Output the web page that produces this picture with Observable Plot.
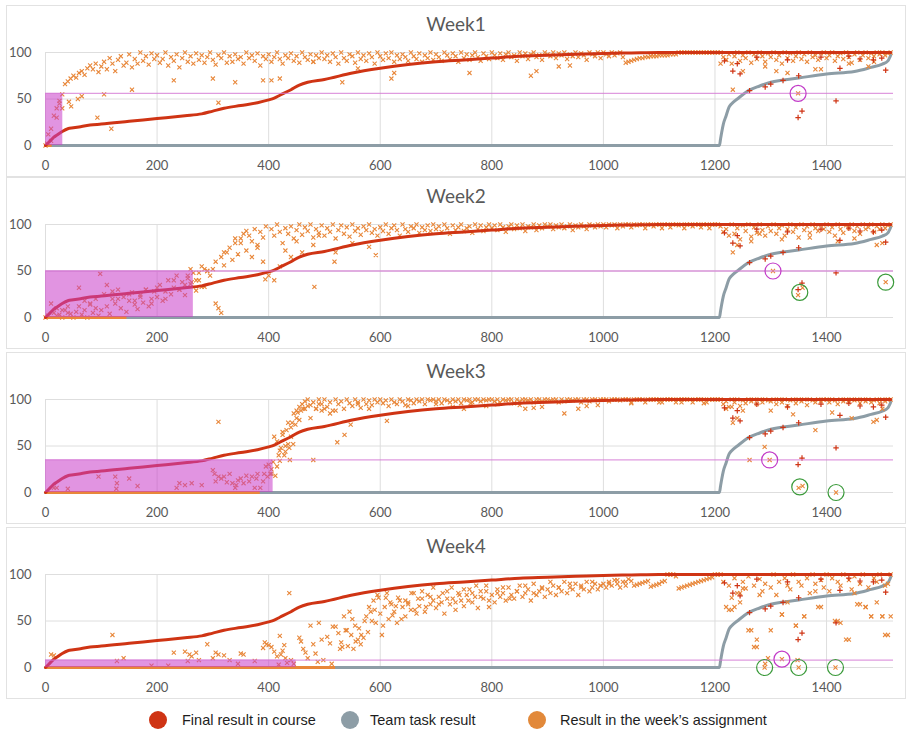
<!DOCTYPE html>
<html><head><meta charset="utf-8">
<script src="https://cdn.jsdelivr.net/npm/d3@7"></script>
<script src="https://cdn.jsdelivr.net/npm/@observablehq/plot@0.6"></script>
<style>
body{margin:0;background:#fff;width:909px;height:739px;position:relative;overflow:hidden;font-family:Lato,sans-serif}
.panel{position:absolute;left:6px;width:898px;height:170px;border:1px solid #e2e2e2;background:#fff}
.title{position:absolute;top:7px;left:0;width:100%;text-align:center;font-size:19px;color:#595959;line-height:22px;z-index:2}
.panel svg{position:absolute;left:0;top:0}
.lg-dot{position:absolute;width:18px;height:18px;border-radius:50%}
.lg-txt{position:absolute;font-family:"Liberation Sans",Arial,sans-serif;font-size:14.5px;color:#1e1e1e;line-height:18px}
</style></head>
<body>
<div id="root"></div>
<script>
const weeks = ["Week1","Week2","Week3","Week4"];
const xTicks = [0,200,400,600,800,1000,1200,1400];
const yTicks = [0,50,100];
const legendLabels = ["Final result in course","Team task result","Result in the week\u2019s assignment"];

// Final result in course (sorted curve), read at sample positions
const finalX = [0,5,10,15,20,30,40,50,60,80,100,150,200,250,280,300,320,350,380,400,410,420,440,455,470,500,550,600,650,700,750,800,850,900,950,1000,1050,1100,1515];
const finalY = [0,3,6,9,11,15,18,19,20,22,23,26,29,32,34,37,40,43,46,49,51,54,60,65,68,71,78,83,87,90,92,94,96,97,98,99,99.5,100,100];
// Final results below 100 among students with a team task
const finalOut = [[1217,91],[1232,80],[1245,77],[1262,59],[1290,63],[1300,66],[1322,70],[1350,75],[1356,37],[1349,30],[1417,48],[1424,83],[1506,81],[1499,94],[1484,92],[1240,88],[1275,95],[1330,92],[1390,95],[1440,96],[1460,93]];
// Team task result
const teamX = [0,1208,1210,1212,1215,1220,1225,1230,1240,1260,1280,1300,1350,1400,1450,1480,1500,1510,1515];
const teamY = [0,0,7,14,23,32,41,45,50,59,64,68,72.5,77,79.5,84,87.5,91,97];

const thresholds = [56,50,35,8];
const flaggedUpTo = [31,265,408,449];
const zeroRunEnd = [12,146,385,520];
const baseStart = [0,0,400,520];

// Week assignment results, one value every 5 students from baseStart
const base1 = [
0,12,18,32,40,48,55,66,69,72,75,73,78,80,76,83,86,82,88,79,
85,90,82,94,88,80,92,96,86,89,98,84,93,88,100,91,96,87,99,93,
97,89,93,100,86,95,91,98,84,94,100,90,96,88,99,92,97,89,95,100,
92,87,97,94,100,89,96,90,98,93,95,88,100,94,97,91,99,86,96,93,
98,90,95,100,93,88,97,94,99,91,96,89,100,95,92,98,90,97,94,100,
93,97,90,99,95,88,100,94,91,98,96,89,100,93,97,91,99,95,88,100,
96,92,99,94,100,90,97,93,98,95,91,100,96,93,99,90,97,94,100,92,
98,95,91,100,97,93,99,96,90,100,94,98,92,97,100,95,91,99,96,93,
100,97,94,99,92,98,100,95,97,91,100,96,99,93,98,100,95,97,92,100,
98,96,100,94,99,97,100,93,98,96,100,95,99,97,92,100,98,96,100,94,
100,98,96,100,97,99,100,95,89,90,91,92,93,94,94,95,95,96,96,96,
97,97,97,97,98,98,98,100,100,100,100,100,100,100,100,100,100,100,100,100,
100,100,100,95,92,98,88,96,100,91,97,94,100,89,98,93,100,96,90,99,
95,100,92,97,88,100,94,99,91,96,100,93,98,90,100,95,97,92,99,100,
94,97,100,91,96,99,93,100,95,89,98,100,92,97,100,94,99,96,100,98,
100,97,99,100];
const base2 = [
0,2,15,5,10,3,0,8,12,4,0,6,32,3,8,0,14,5,10,2,
8,25,12,4,20,15,30,10,22,6,18,27,14,9,24,16,30,12,20,28,
22,35,18,28,40,25,32,45,30,38,24,42,36,48,29,40,55,33,50,45,
52,60,10,65,56,70,75,62,85,68,80,90,72,88,82,95,78,92,86,98,
45,95,88,100,92,80,96,90,98,85,94,100,89,97,93,100,86,95,91,99,
88,96,92,100,85,94,99,90,97,87,100,93,96,89,98,94,100,91,95,88,
97,93,100,90,96,99,94,88,100,95,92,98,96,100,91,97,94,99,93,100,
95,98,92,100,96,90,99,94,97,100,93,96,98,91,100,95,99,93,97,100,
96,99,94,100,97,92,98,100,95,99,96,100,93,98,97,100,94,99,96,100,
98,100,95,99,97,100,96,98,100,94,99,97,100,98,95,100,99,97,100,98,
100,97,100,99,100,96,100,98,100,100,97,100,99,100,100,96,100,100,98,100,
100,96,100,100,97,100,100,99,100,96,100,100,98,100,100,97,100,100,96,100,
100,100,98,92,95,88,100,90,96,84,99,93,100,87,97,91,100,94,88,98,
93,100,90,96,99,88,95,100,92,97,86,100,94,98,91,100,96,93,99,95,
100,92,97,88,100,95,91,99,96,100,93,98,90,100,95,97,100,92,98,95,
100,96,99,100];
const base3 = [
30,20,60,55,45,65,50,75,70,85,88,92,95,90,100,94,97,90,100,95,
100,92,97,88,100,95,98,90,100,96,93,100,97,91,100,95,99,94,100,97,
100,96,99,93,100,97,95,100,98,94,100,99,96,100,98,100,95,100,99,100,
98,100,96,100,99,97,100,98,100,96,100,99,100,97,100,100,98,100,99,100,
100,98,100,97,100,99,100,100,96,100,98,100,100,99,100,97,100,100,98,100,
100,99,100,100,97,100,98,100,100,99,100,100,97,100,100,98,100,100,99,100,
100,100,98,100,100,100,99,100,100,100,97,100,100,100,100,97,100,100,100,100,
100,97,100,100,100,100,97,100,100,100,100,100,97,100,100,100,100,97,100,100,
100,100,100,95,98,92,100,97,100,93,99,96,100,98,100,95,100,97,100,99,
98,100,95,100,97,100,93,99,100,96,100,98,100,94,100,99,97,100,98,100,
100,97,100,99,95,100,98,100,97,100,99,100,96,100,98,100,97,99,100,96,
100,98,100,100];
const base4 = [
44,37,27,55,40,60,52,45,30,25,32,55,65,50,62,78,
58,45,75,52,68,60,48,72,65,55,70,62,80,58,66,74,60,78,68,72,
64,76,70,58,82,68,74,62,80,72,66,78,84,70,76,64,82,74,88,72,
78,70,84,76,80,72,86,78,74,82,88,76,80,84,72,90,78,82,86,76,
84,80,88,78,86,82,92,80,86,84,90,78,88,84,92,82,86,90,84,88,
90,86,92,88,94,90,86,92,88,95,93,88,89,90,91,92,93,87,88,89,
90,92,93,100,100,100,98,85,86,87,88,89,90,91,92,93,94,95,96,97,
100,100,100,92,65,88,75,96,80,70,92,85,98,40,88,22,95,82,90,10,
86,100,78,92,57,96,88,84,100,45,92,88,55,96,80,100,90,65,94,86,
100,82,96,50,92,88,100,30,94,84,98,68,90,100,65,86,55,96,92,100,
55,35,90,100];

// Additional scattered assignment results [student, score]
const extra1 = [[3,2],[10,5],[20,30],[25,45],[30,40],[42,47],[46,42],[58,50],[65,53],[93,30],[105,55],[118,18],[155,60],[230,70],[300,72],[310,46],[340,68],[390,70],[405,70],[420,72],[480,90],[532,68],[560,83],[620,72],[625,78],[760,78],[870,75],[880,80],[920,85],[940,86],[1210,88],[1220,92],[1232,60],[1250,80],[1290,85],[1310,80],[1330,78],[1349,56],[1380,82],[1390,82],[1440,88],[1475,85],[1485,90]];
const extra2 = [[20,2],[30,8],[40,5],[60,12],[70,18],[80,15],[90,20],[98,47],[110,35],[120,28],[130,20],[150,25],[160,18],[170,22],[180,30],[190,15],[200,32],[215,20],[230,40],[240,30],[250,35],[255,45],[260,52],[262,38],[270,40],[275,48],[280,33],[285,52],[290,50],[305,15],[315,5],[320,70],[340,80],[350,85],[360,93],[370,65],[380,75],[390,60],[394,41],[410,40],[420,55],[430,72],[440,65],[450,82],[460,70],[480,78],[482,33],[490,88],[518,60],[520,70],[550,80],[580,76],[592,67],[1232,70],[1240,78],[1265,82],[1280,90],[1304,50],[1349,24],[1357,32],[1506,38],[1420,82],[1450,85],[1490,78],[1500,80],[1320,84],[1370,86]];
const extra3 = [[15,5],[20,5],[40,4],[95,17],[125,17],[128,10],[127,4],[150,15],[165,7],[235,5],[240,10],[250,8],[262,10],[280,8],[300,24],[303,20],[305,12],[310,17],[310,76],[315,15],[320,17],[325,11],[330,20],[335,10],[340,5],[342,8],[345,13],[350,15],[355,10],[360,18],[365,12],[370,17],[375,5],[378,15],[380,20],[385,5],[390,12],[392,20],[395,28],[398,17],[403,20],[405,25],[408,33],[412,18],[415,28],[418,40],[420,34],[422,48],[425,62],[428,40],[430,44],[432,67],[435,52],[437,48],[438,35],[440,60],[442,75],[444,52],[448,73],[450,80],[452,86],[455,78],[458,88],[462,90],[465,98],[470,93],[475,80],[480,35],[485,90],[490,95],[495,88],[500,90],[510,85],[520,88],[523,54],[536,62],[547,73],[560,95],[580,90],[612,77],[650,93],[700,95],[730,92],[750,90],[762,96],[790,93],[810,95],[850,94],[860,90],[875,91],[890,92],[930,85],[955,90],[970,93],[990,94],[1050,96],[1100,97],[1140,97],[1180,96],[1220,90],[1230,92],[1232,75],[1240,80],[1250,88],[1262,35],[1289,49],[1298,35],[1300,88],[1340,84],[1350,5],[1357,7],[1380,67],[1410,86],[1417,0],[1445,80],[1484,76],[1490,78],[1500,90]];
const extra4 = [[10,14],[15,13],[120,35],[128,7],[140,10],[190,2],[220,2],[230,16],[250,17],[255,7],[258,14],[262,12],[270,16],[275,8],[290,25],[300,10],[305,16],[310,14],[320,13],[330,8],[345,4],[350,15],[355,14],[375,7],[390,21],[393,27],[396,25],[400,24],[405,22],[410,17],[415,12],[418,3],[420,34],[422,14],[425,18],[428,24],[430,10],[433,5],[437,80],[440,8],[445,4],[455,32],[458,28],[462,20],[466,16],[470,10],[475,45],[480,25],[484,15],[488,6],[490,48],[495,30],[498,8],[505,33],[510,26],[513,4],[515,44],[528,20],[532,22],[538,40],[542,23],[548,35],[552,20],[556,28],[562,42],[566,35],[572,50],[578,38],[583,60],[588,72],[592,48],[597,75],[603,35],[608,65],[612,80],[618,70],[622,56],[628,66],[632,75],[638,52],[645,72],[650,68],[656,80],[662,62],[668,74],[675,82],[682,65],[690,76],[695,86],[705,68],[712,80],[720,74],[728,86],[735,70],[742,78],[750,84],[758,72],[765,80],[772,88],[780,76],[790,82],[795,65],[810,80],[820,86],[832,74],[845,82],[860,88],[875,80],[890,85],[905,92],[920,86],[940,90],[960,86],[980,92],[995,88],[1010,90],[1025,94],[1040,92],[1225,62],[1230,62],[1235,65],[1245,80],[1250,85],[1260,40],[1270,22],[1275,30],[1280,78],[1289,0],[1290,4],[1300,40],[1320,9],[1320,57],[1330,70],[1345,45],[1348,8],[1350,0],[1360,55],[1380,82],[1390,65],[1416,0],[1420,50],[1425,48],[1440,30],[1450,80],[1460,68],[1470,65],[1480,55],[1490,70],[1500,55],[1505,88],[1510,35],[1515,55]];

const magentaCircles = [[[1349,56]],[[1304,50]],[[1298,35]],[[1320,9]]];
const greenCircles = [[],[[1352,27],[1506,38]],[[1352,6],[1417,0]],[[1289,0],[1350,0],[1416,0]]];

const bases = [base1,base2,base3,base4];
const extras = [extra1,extra2,extra3,extra4];
const RED = "#cf3414", GREY = "#8d9da6", ORANGE = "#e8873a";
const panelTops = [5,177,352,527];

const fin = finalX.map((x,j)=>({x, y: finalY[j]}));
const team = teamX.map((x,j)=>({x, y: teamY[j]}));
const finOut = finalOut.map(([x,y])=>({x,y}));

const root = document.getElementById("root");
weeks.forEach((w,i)=>{
  const panel = document.createElement("div");
  panel.className = "panel";
  panel.style.top = panelTops[i] + "px";
  const t = document.createElement("div");
  t.className = "title"; t.textContent = w;
  panel.appendChild(t);
  const orange = bases[i].map((y,j)=>({x: baseStart[i] + 5*j, y}))
    .concat(extras[i].map(([x,y])=>({x,y})));
  const chart = Plot.plot({
    width: 898, height: 170,
    marginLeft: 38, marginRight: 12, marginTop: 46, marginBottom: 31,
    x: {domain:[0,1520], ticks: xTicks, tickSize:0, tickPadding:15, label:null, tickFormat: d=>String(d)},
    y: {domain:[0,100], ticks: yTicks, tickSize:0, tickPadding:14, label:null},
    style: {fontFamily:"Lato, sans-serif", fontSize:"13px", color:"#595959", background:"transparent", overflow:"visible"},
    marks: [
      Plot.ruleY(yTicks, {x1:0, x2:1520, stroke:"#dedede", strokeWidth:1}),
      Plot.ruleX(xTicks, {y1:0, y2:100, stroke:"#dedede", strokeWidth:1}),
      Plot.line(team, {x:"x", y:"y", stroke:GREY, strokeWidth:3, curve:"monotone-x"}),
      Plot.ruleY([{y:0, x2: zeroRunEnd[i]}], {y:"y", x1:0, x2:"x2", stroke:ORANGE, strokeWidth:3}),
      Plot.dot(orange, {x:"x", y:"y", symbol:"times", r:2, stroke:ORANGE, strokeWidth:1.1}),
      Plot.line(fin, {x:"x", y:"y", stroke:RED, strokeWidth:3, curve:"monotone-x"}),
      Plot.dot(finOut, {x:"x", y:"y", symbol:"plus", r:1.9, stroke:RED, strokeWidth:1.2}),
      Plot.rect([{x1:0, x2:flaggedUpTo[i], y1:0, y2:thresholds[i]}], {x1:"x1", x2:"x2", y1:"y1", y2:"y2", fill:"#c93cc9", fillOpacity:0.55}),
      Plot.ruleY([thresholds[i]], {x1:0, x2:1520, stroke:"#d47ad4", strokeWidth:1.3, strokeOpacity:0.75}),
      Plot.dot(magentaCircles[i], {x:d=>d[0], y:d=>d[1], r:8, stroke:"#c23bc8", strokeWidth:1.2, fill:"none"}),
      Plot.dot(greenCircles[i], {x:d=>d[0], y:d=>d[1], r:8, stroke:"#3a9a3a", strokeWidth:1.2, fill:"none"})
    ]
  });
  panel.appendChild(chart);
  root.appendChild(panel);
});

// Legend
const legendColors = [RED, GREY, "#e2893a"];
const legendDotX = [149, 341, 528];
const legendTextX = [182, 370, 560];
legendLabels.forEach((lab,i)=>{
  const d = document.createElement("div");
  d.className = "lg-dot"; d.style.left = legendDotX[i]+"px"; d.style.top = "711px";
  d.style.background = legendColors[i];
  document.body.appendChild(d);
  const s = document.createElement("div");
  s.className = "lg-txt"; s.textContent = lab;
  s.style.left = legendTextX[i]+"px"; s.style.top = "711px";
  document.body.appendChild(s);
});
</script>
</body></html>
